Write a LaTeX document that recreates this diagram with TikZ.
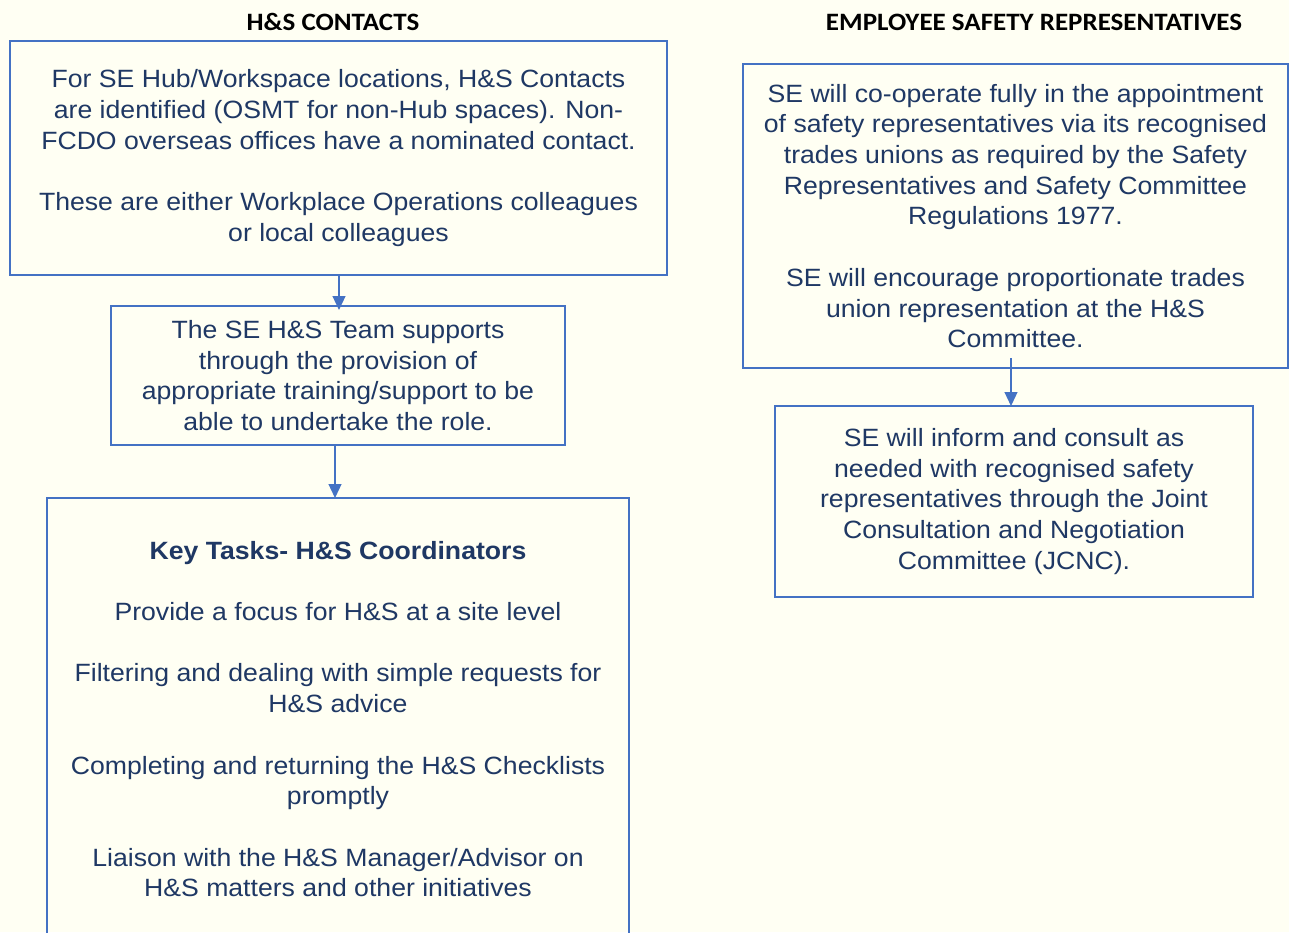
\documentclass[tikz,border=0pt]{standalone}
\usepackage{fontspec}
\setmainfont{Liberation Sans}[FakeStretch=1.065]
\newfontfamily\headfont{Carlito}[FakeStretch=1.08]
\usetikzlibrary{arrows.meta}
\definecolor{paper}{HTML}{FFFFF3}
\definecolor{boxblue}{HTML}{4472C4}
\definecolor{inknavy}{HTML}{1F3864}
\tikzset{text_box/.style={draw=boxblue, line width=2.5pt, rectangle, inner sep=0pt, outer sep=0pt, align=center, text=inknavy, font=\fontsize{25}{30.7}\selectfont}}
\tikzset{head_label/.style={inner sep=0pt, text=black, font=\headfont\bfseries\fontsize{25}{28}\selectfont}}
\tikzset{link_arrow/.style={color=boxblue, line width=1.2pt, -{Triangle[width=13pt,length=14pt]}}}

\begin{document}
\begin{tikzpicture}[x=1pt, y=-1pt]
    \fill[paper] (0,0) rectangle (1289,932);
    \useasboundingbox (0,0) rectangle (1289,932);
    % headings
    \node[head_label] (headL) at (333,22) {H\&S CONTACTS};
    \node[head_label] (headR) at (1034,22) {EMPLOYEE SAFETY REPRESENTATIVES};
    % left column
    \node[text_box, minimum width=657pt, minimum height=234pt] (contacts) at (338.5,158)
      {For SE Hub/Workspace locations, H\&S Contacts\\
       are identified (OSMT for non-Hub spaces). Non-\\
       FCDO overseas offices have a nominated contact.\\[30.7pt]
       These are either Workplace Operations colleagues\\
       or local colleagues};
    \node[text_box, minimum width=454pt, minimum height=139pt] (team) at (338,375.5)
      {The SE H\&S Team supports\\
       through the provision of\\
       appropriate training/support to be\\
       able to undertake the role.};
    \node[text_box, minimum width=582pt, minimum height=442pt] (tasks) at (338,719)
      {\textbf{Key Tasks- H\&S Coordinators}\\[30.7pt]
       Provide a focus for H\&S at a site level\\[30.7pt]
       Filtering and dealing with simple requests for\\
       H\&S advice\\[30.7pt]
       Completing and returning the H\&S Checklists\\
       promptly\\[30.7pt]
       Liaison with the H\&S Manager/Advisor on\\
       H\&S matters and other initiatives};
    % right column
    \node[text_box, minimum width=545pt, minimum height=304pt] (reps) at (1015.5,216)
      {SE will co-operate fully in the appointment\\
       of safety representatives via its recognised\\
       trades unions as required by the Safety\\
       Representatives and Safety Committee\\
       Regulations 1977.\\[30.7pt]
       SE will encourage proportionate trades\\
       union representation at the H\&S\\
       Committee.};
    \node[text_box, minimum width=478pt, minimum height=191pt] (consult) at (1014,501.5)
      {SE will inform and consult as\\
       needed with recognised safety\\
       representatives through the Joint\\
       Consultation and Negotiation\\
       Committee (JCNC).};
    % arrows
    \draw[link_arrow] ([xshift=0.5pt]contacts.south) -- ([xshift=1pt,yshift=-4pt]team.north);
    \draw[link_arrow] ([xshift=-3pt]team.south) -- ([xshift=-3pt]tasks.north);
    \draw[link_arrow] ([xshift=-4.5pt,yshift=10pt]reps.south) -- ([xshift=-3pt]consult.north);
\end{tikzpicture}
\end{document}
